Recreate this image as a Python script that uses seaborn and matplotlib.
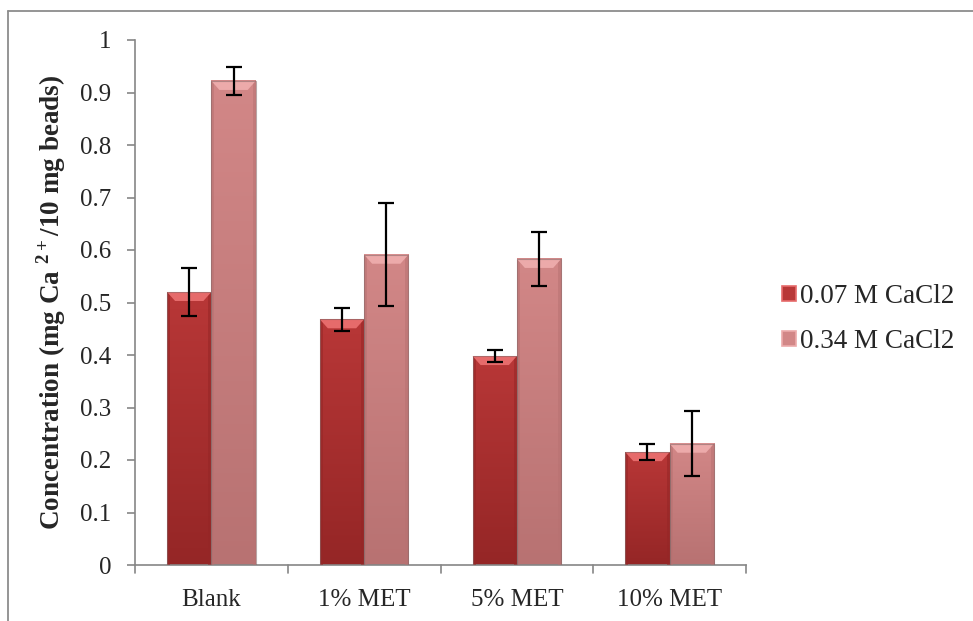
import numpy as np
import pandas as pd
import matplotlib
matplotlib.use("Agg")
import matplotlib.pyplot as plt
import seaborn as sns
from matplotlib.patches import Polygon, Rectangle, Patch
from matplotlib.lines import Line2D

# ---- data -------------------------------------------------------------
categories = ["Blank", "1% MET", "5% MET", "10% MET"]
series = ["0.07 M CaCl2", "0.34 M CaCl2"]
low_conc = [0.52, 0.468, 0.398, 0.215]
high_conc = [0.922, 0.591, 0.583, 0.231]
low_err = [0.045, 0.022, 0.011, 0.015]
high_err = [0.027, 0.098, 0.052, 0.062]
y_ticks = [0, 0.1, 0.2, 0.3, 0.4, 0.5, 0.6, 0.7, 0.8, 0.9, 1]
y_tick_labels = ["0", "0.1", "0.2", "0.3", "0.4", "0.5", "0.6", "0.7", "0.8", "0.9", "1"]

# body / shadow / bevel-top colours per series
body_colors = ["#B83737", "#D28787"]
dark_colors = ["#952626", "#B87272"]
top_colors = ["#E66B6B", "#ECAAAA"]

df = pd.DataFrame({
    "Category": categories * 2,
    "Series": [series[0]] * 4 + [series[1]] * 4,
    "Value": low_conc + high_conc,
    "Err": low_err + high_err,
})

sns.set_theme(style="white")
plt.rcParams["font.family"] = ["Liberation Serif", "DejaVu Serif"]
plt.rcParams["mathtext.fontset"] = "custom"
plt.rcParams["mathtext.rm"] = "Liberation Serif"
plt.rcParams["mathtext.bf"] = "Liberation Serif:bold"

fig = plt.figure(figsize=(9.73, 6.21), dpi=100)
ax = fig.add_axes([135 / 973, 1 - 565 / 621, (746 - 135) / 973, (565 - 40) / 621])

sns.barplot(data=df, x="Category", y="Value", hue="Series", order=categories,
            hue_order=series, palette=body_colors, width=0.58, errorbar=None,
            ax=ax, legend=False, linewidth=0, saturation=1)

# x / y size of one pixel in data units, for the bevel
px_x = 4.0 / 611.0
px_y = 1.0 / 525.0

for s_idx, (vals, errs) in enumerate([(low_conc, low_err), (high_conc, high_err)]):
    patches = ax.patches[s_idx * 4:(s_idx + 1) * 4]
    for p, v, e in zip(patches, vals, errs):
        x0 = p.get_x()
        w = p.get_width()
        x1 = x0 + w
        h = p.get_height()
        # vertical shading: lighter near the top, darker near the base
        grad = np.linspace(0, 1, 100).reshape(-1, 1)
        c_top = np.array(matplotlib.colors.to_rgb(body_colors[s_idx]))
        c_bot = np.array(matplotlib.colors.to_rgb(dark_colors[s_idx]))
        img = c_bot[None, None, :] * (1 - grad[..., None]) + c_top[None, None, :] * grad[..., None]
        img = np.repeat(img, 2, axis=1)
        ax.imshow(img, extent=[x0, x1, 0, h], origin="lower", aspect="auto", zorder=2)
        # darker side edges
        ex = 3 * px_x
        ax.add_patch(Rectangle((x0, 0), ex, h, color=dark_colors[s_idx], alpha=0.55, lw=0, zorder=3))
        ax.add_patch(Rectangle((x1 - ex, 0), ex, h, color=dark_colors[s_idx], alpha=0.55, lw=0, zorder=3))
        # bevelled top
        bh = 9 * px_y
        bx = 8 * px_x
        ax.add_patch(Polygon([[x0, h], [x1, h], [x1 - bx, h - bh], [x0 + bx, h - bh]],
                             closed=True, color=top_colors[s_idx], lw=0, zorder=3))
        # soft outline
        ax.add_patch(Rectangle((x0, 0), w, h, fill=False, ec="#8a6a6a", lw=0.8, alpha=0.6, zorder=4))
        ax.errorbar(x0 + w / 2, v, yerr=e, fmt="none", ecolor="black", elinewidth=1.6,
                    capsize=6, capthick=1.6, zorder=5)

ax.set_xlim(-0.5, 3.5)
ax.set_ylim(0, 1)
ax.set_yticks(y_ticks)
ax.set_yticklabels(y_tick_labels, fontsize=18)
ax.set_xticks(range(len(categories)))
ax.set_xticklabels(categories, fontsize=18)
ax.set_xlabel("")
ax.set_ylabel(r"Concentration (mg Ca $^{\mathbf{2+}}$/10 mg beads)", fontsize=19.5,
              fontweight="bold", labelpad=9)

# category boundary ticks on the x axis
ax.tick_params(axis="x", length=0, pad=17)
for b in np.arange(-0.5, 4.0, 1.0):
    ax.add_line(Line2D([b, b], [0, -0.016], color="#868686", lw=1.2,
                       transform=ax.transData, clip_on=False))
ax.tick_params(axis="y", direction="out", length=6, width=1.2, color="#868686",
               left=True, pad=11)

for side in ["top", "right"]:
    ax.spines[side].set_visible(False)
for side in ["left", "bottom"]:
    ax.spines[side].set_color("#868686")
    ax.spines[side].set_linewidth(1.2)
ax.grid(False)

handles = [Patch(facecolor=body_colors[i], edgecolor=top_colors[i], lw=1.2) for i in range(2)]
fig.legend(handles, series, loc="center left", bbox_to_anchor=(782 / 973, 1 - 319 / 621),
           frameon=False, fontsize=19.5, handlelength=0.5, handleheight=0.5,
           handletextpad=0.15, labelspacing=0.75, borderaxespad=0, borderpad=0)

# chart area frame
fig.add_artist(Line2D([8 / 973, 8 / 973], [0, 1 - 11 / 621], color="#8c8c8c", lw=1.3,
                      transform=fig.transFigure))
fig.add_artist(Line2D([8 / 973, 1], [1 - 11 / 621, 1 - 11 / 621], color="#8c8c8c", lw=1.3,
                      transform=fig.transFigure))

fig.savefig("out.png", dpi=100)
